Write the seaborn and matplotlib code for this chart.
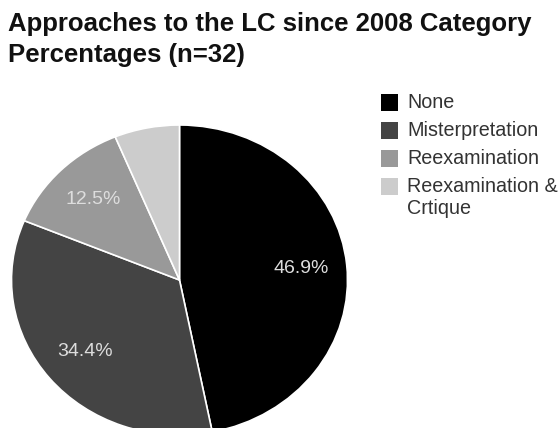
import matplotlib
matplotlib.use("Agg")
import matplotlib.pyplot as plt
import seaborn as sns
from matplotlib.patches import Rectangle

categories = ["None", "Misterpretation", "Reexamination", "Reexamination &\nCrtique"]
counts = [15, 11, 4, 2]
colors = ["#000000", "#444444", "#999999", "#cccccc"]
title = "Approaches to the LC since 2008 Category\nPercentages (n=32)"

sns.set_theme(style="white")
plt.rcParams["font.family"] = ["Liberation Sans", "DejaVu Sans"]

W, H = 560, 428
fig = plt.figure(figsize=(W / 100, H / 100), dpi=100)

# the reference pie is slightly squashed vertically
cx, cy, rx, ry = 179.5, 280, 168, 155
ax = fig.add_axes([(cx - rx) / W, (H - cy - ry) / H, 2 * rx / W, 2 * ry / H])

def fmt(p):
    return f"{p:.1f}%" if p >= 10 else ""

wedges, texts, autotexts = ax.pie(
    counts, colors=colors, startangle=90, counterclock=False,
    autopct=fmt, pctdistance=0.73, radius=1,
    wedgeprops=dict(edgecolor="white", linewidth=1.2),
    textprops=dict(color="#dddddd", fontsize=14),
)
ax.set_xlim(-1.0, 1.0)
ax.set_ylim(-1.0, 1.0)
ax.set_aspect("auto")
ax.axis("off")

fig.text(8 / W, 1 - 12 / H, title, ha="left", va="top", fontsize=18.5,
         fontweight="bold", color="#111111", linespacing=1.35)

# legend
lx, ly0, sq, step = 381, 94, 17, 28
for i, (cat, col) in enumerate(zip(categories, colors)):
    top = ly0 + i * step
    fig.patches.append(Rectangle((lx / W, 1 - (top + sq) / H), sq / W, sq / H,
                                 transform=fig.transFigure, facecolor=col,
                                 edgecolor="none"))
    fig.text(407 / W, 1 - (top - 1) / H, cat, ha="left", va="top",
             fontsize=14.2, color="#333333", linespacing=1.2)

fig.savefig("out.png", dpi=100)
